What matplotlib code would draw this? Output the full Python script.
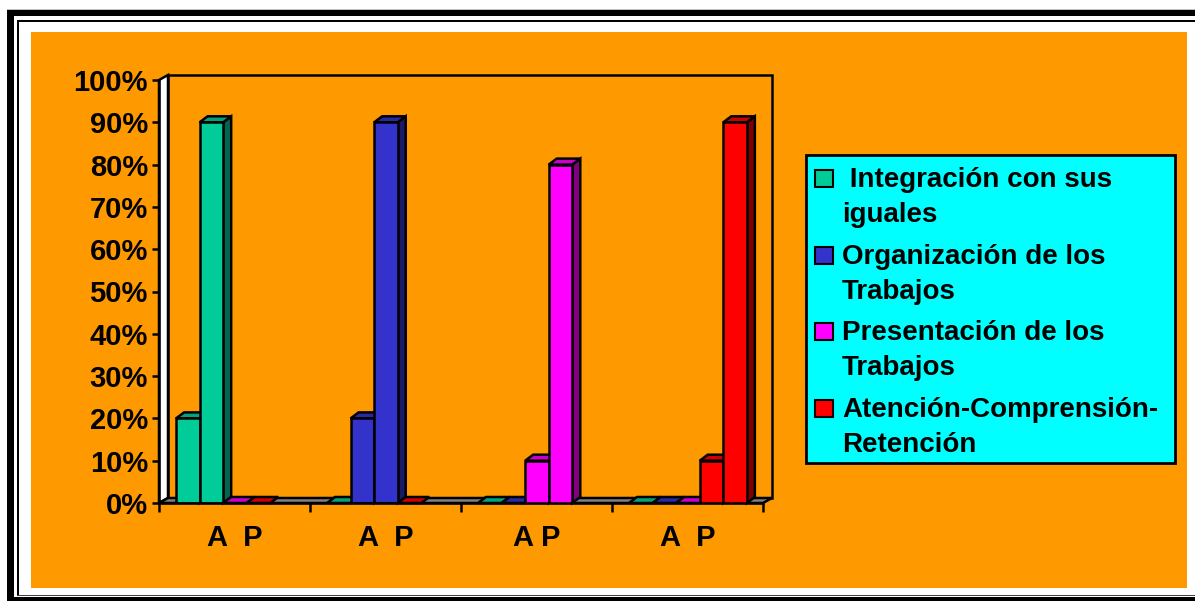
import matplotlib
matplotlib.use("Agg")
import matplotlib.pyplot as plt
from matplotlib.patches import Polygon, Rectangle
from matplotlib.transforms import IdentityTransform

# ---------------- data ----------------
categorias = ["A  P", "A  P", "A P", "A  P"]
series = [" Integración con sus\niguales",
          "Organización de los\nTrabajos",
          "Presentación de los\nTrabajos",
          "Atención-Comprensión-\nRetención"]
color_frente = ["#00CC99", "#3333CC", "#FF00FF", "#FF0000"]
color_arriba = ["#00A37A", "#2929A3", "#CC00CC", "#CC0000"]
color_lado = ["#006650", "#1A1A66", "#800080", "#800000"]
# column slots per category (None = empty slot)
valores = [
    [20, 90, 0, 0, None],
    [0, 20, 90, 0, None],
    [0, 0, 10, 80, None],
    [0, 0, 0, 10, 90],
]
serie_de_columna = [
    [0, 0, 2, 3, None],
    [0, 1, 1, 3, None],
    [0, 1, 2, 2, None],
    [0, 1, 2, 3, 3],
]
y_ticks = list(range(0, 101, 10))

# ---------------- figure ----------------
W, H, DPI = 1195, 601, 100
plt.rcParams["font.family"] = ["Liberation Sans", "DejaVu Sans"]
plt.rcParams["font.weight"] = "bold"
fig = plt.figure(figsize=(W / DPI, H / DPI), dpi=DPI, facecolor="white")
ID = IdentityTransform()


def P(x, y):
    return (x, H - y)


def rect(x0, y0, x1, y1, fc, ec="none", lw=0, z=0):
    fig.add_artist(Rectangle(P(x0, y1), x1 - x0, y1 - y0, transform=ID,
                             facecolor=fc, edgecolor=ec, linewidth=lw, zorder=z))


# outer frame
rect(7, 8.5, 1195, 9.5, "#C0C0C0")
rect(7, 10, 1195, 16, "black")
rect(7, 10, 14, 601, "black")
rect(7, 597, 1195, 601, "black")
rect(17, 20, 1195, 21.5, "black")
rect(17, 20, 18.5, 596, "black")
rect(17, 594.5, 1195, 596, "#404040")
# chart area
rect(31, 32, 1187, 588, "#FF9900")

# ---------------- axes ----------------
L, R, T, B = 159, 763, 80, 503
ax = fig.add_axes([L / W, (H - B) / H, (R - L) / W, (B - T) / H])
ax.set_autoscale_on(False)
ax.set_xlim(0, 4)
ax.set_ylim(0, 100)
ax.patch.set_visible(False)
for s in ("top", "right"):
    ax.spines[s].set_visible(False)
for s in ("left", "bottom"):
    ax.spines[s].set_linewidth(1.8)
    ax.spines[s].set_zorder(30)

fig.canvas.draw()
td = ax.transData
DXW, DYW = 9, 5     # wall depth (px)
DXB, DYB = 8, 6     # bar depth (px)
LW = 1.8


def poly(pts, fc, z, lw=LW):
    ax.add_patch(Polygon(pts, closed=True, transform=ID, facecolor=fc,
                         edgecolor="black", linewidth=lw, zorder=z,
                         clip_on=False, joinstyle="miter"))


(x0d, y0d) = td.transform((0, 0))
(x1d, y1d) = td.transform((4, 100))
# left side wall
poly([(x0d, y0d), (x0d, y1d), (x0d + DXW, y1d + DYW), (x0d + DXW, y0d + DYW)], "white", 0.5)
# back wall
poly([(x0d + DXW, y0d + DYW), (x0d + DXW, y1d + DYW), (x1d + DXW, y1d + DYW), (x1d + DXW, y0d + DYW)],
     "#FF9900", 0.4)
# floor
poly([(x0d, y0d), (x1d, y0d), (x1d + DXW, y0d + DYW), (x0d + DXW, y0d + DYW)], "#808080", 1)

# bars
off, w = 0.113, 0.156
z = 2
for i, (vals, sers) in enumerate(zip(valores, serie_de_columna)):
    for j, (v, s) in enumerate(zip(vals, sers)):
        if v is None:
            continue
        xa = i + off + j * w
        xb = xa + w
        pb0 = td.transform((xb, 0))
        pav = td.transform((xa, v))
        pbv = td.transform((xb, v))
        # side
        if v > 0:
            poly([pb0, pbv, (pbv[0] + DXB, pbv[1] + DYB), (pb0[0] + DXB, pb0[1] + DYB)], color_lado[s], z)
        # top
        poly([pav, pbv, (pbv[0] + DXB, pbv[1] + DYB), (pav[0] + DXB, pav[1] + DYB)], color_arriba[s], z + 1)
        # front
        ax.bar(xa, v, width=w, align="edge", color=color_frente[s],
               edgecolor="black", linewidth=LW if v > 0 else 0, zorder=z + 2)
        z += 3

# ticks
ax.set_yticks(y_ticks)
ax.set_yticklabels([f"{t}%" for t in y_ticks])
ax.tick_params(axis="y", direction="out", length=5, width=1.8, pad=3,
               labelsize=21, colors="black")
ax.set_xticks(range(5))
ax.set_xticklabels([""] * 5)
ax.tick_params(axis="x", which="major", direction="out", length=6.5, width=1.8)
ax.set_xticks([k + 0.5 for k in range(4)], minor=True)
ax.set_xticklabels(categorias, minor=True)
ax.tick_params(axis="x", which="minor", length=0, pad=15, labelsize=21)

# ---------------- legend ----------------
rect(806, 155, 1175, 463, "#00FFFF", "black", 2.0, z=5)
for k, (lab, c) in enumerate(zip(series, color_frente)):
    base = 187 + 76.7 * k
    rect(815, base - 17, 833, base, c, "black", 1.5, z=6)
    for m, line in enumerate(lab.split("\n")):
        fig.text(842 / W, (H - (base + 35 * m)) / H, line, fontsize=20,
                 fontweight="bold", ha="left", va="baseline", zorder=7)

fig.savefig("out.png", dpi=DPI, facecolor="white")
